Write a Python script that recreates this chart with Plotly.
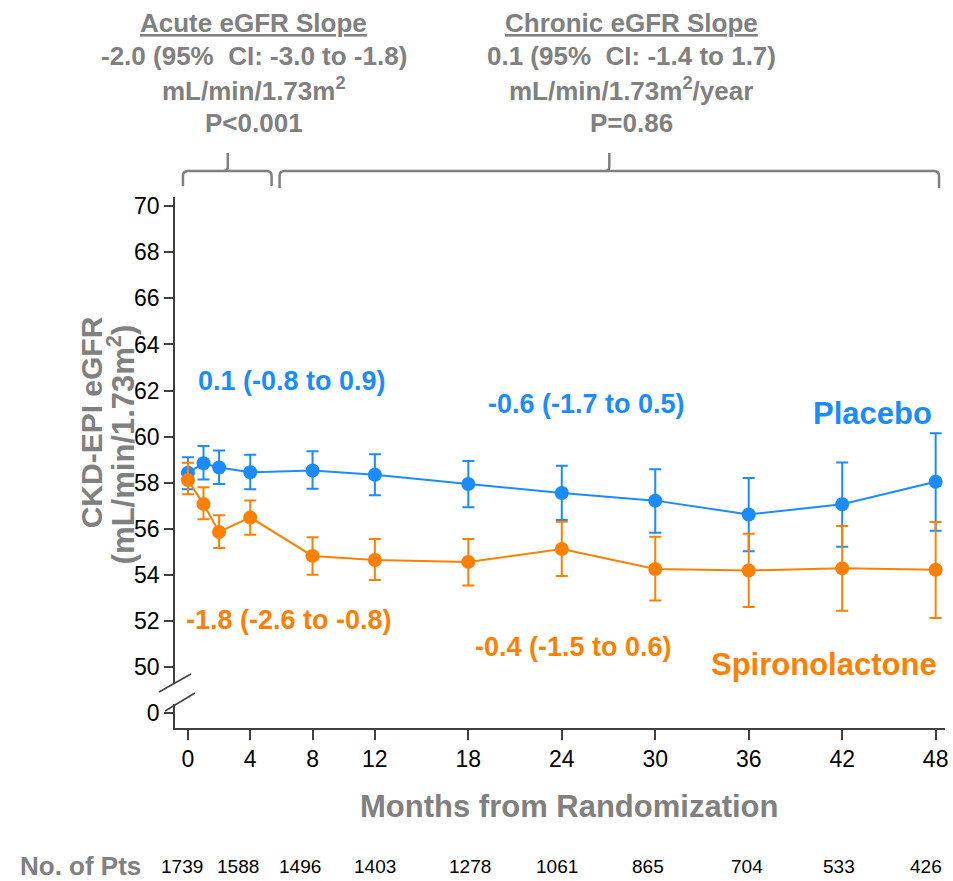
import plotly.graph_objects as go

# ---------------- data ----------------
months = [0, 1, 2, 4, 8, 12, 18, 24, 30, 36, 42, 48]

placebo = [58.43, 58.84, 58.66, 58.45, 58.53, 58.34, 57.94, 57.55, 57.22, 56.62, 57.06, 58.04]
placebo_hi = [59.10, 59.59, 59.40, 59.21, 59.36, 59.23, 58.94, 58.73, 58.58, 58.20, 58.88, 60.14]
placebo_lo = [57.71, 58.14, 57.94, 57.71, 57.74, 57.45, 56.93, 56.38, 55.83, 55.02, 55.22, 55.91]

spiro = [58.11, 57.07, 55.86, 56.49, 54.82, 54.64, 54.56, 55.12, 54.25, 54.19, 54.28, 54.22]
spiro_hi = [58.86, 57.80, 56.59, 57.23, 55.63, 55.55, 55.55, 56.30, 55.65, 55.78, 56.12, 56.29]
spiro_lo = [57.50, 56.41, 55.16, 55.74, 54.00, 53.77, 53.54, 53.95, 52.88, 52.60, 52.44, 52.13]

x_ticks = [0, 4, 8, 12, 18, 24, 30, 36, 42, 48]
y_ticks = [48, 50, 52, 54, 56, 58, 60, 62, 64, 66, 68, 70]
y_ticktext = ["0", "50", "52", "54", "56", "58", "60", "62", "64", "66", "68", "70"]

n_pts_months = [0, 4, 8, 12, 18, 24, 30, 36, 42, 48]
n_pts = [1739, 1588, 1496, 1403, 1278, 1061, 865, 704, 533, 426]

# ---------------- style ----------------
BLUE = "#1A8CFF"
ORANGE = "#FF8000"
GRAY = "#808080"
AX = "#404040"
FONT = "Liberation Sans, Arial, sans-serif"

W, H = 953, 881
PL, PR, PT, PB = 175, 948, 197, 728  # plot area in page pixels

npts_xshift = [-6, -12, -13, 0, 2, -5, -7, -2, -3, -10]


def px(x):
    return (x - PL) / (PR - PL)


def py(y):
    return (PB - y) / (PB - PT)


fig = go.Figure()


def add_series(y, hi, lo, color, name):
    fig.add_trace(go.Scatter(
        x=months, y=y, mode="lines+markers", name=name,
        line=dict(color=color, width=2),
        marker=dict(color=color, size=14),
        error_y=dict(type="data", symmetric=False,
                     array=[h - v for h, v in zip(hi, y)],
                     arrayminus=[v - l for v, l in zip(y, lo)],
                     color=color, thickness=2, width=6),
        showlegend=False,
    ))


add_series(placebo, placebo_hi, placebo_lo, BLUE, "Placebo")
add_series(spiro, spiro_hi, spiro_lo, ORANGE, "Spironolactone")

annotations = []


def ann(text, x, y, color, size, xref="paper", yref="paper", **kw):
    annotations.append(dict(text=text, x=x, y=y, xref=xref, yref=yref,
                            showarrow=False, font=dict(family=FONT, size=size, color=color),
                            xanchor=kw.pop("xanchor", "center"), yanchor=kw.pop("yanchor", "middle"),
                            **kw))


# header texts (one line each to control spacing)
acute = ["<b><u>Acute eGFR Slope</u></b>", "<b>-2.0 (95%  CI: -3.0 to -1.8)</b>",
         "<b>mL/min/1.73m<sup>2</sup></b>", "<b>P<0.001</b>"]
chronic = ["<b><u>Chronic eGFR Slope</u></b>", "<b>0.1 (95%  CI: -1.4 to 1.7)</b>",
           "<b>mL/min/1.73m<sup>2</sup>/year</b>", "<b>P=0.86</b>"]
for i, (a, c) in enumerate(zip(acute, chronic)):
    yy = 23 + 33.3 * i
    ann(a, px(254), py(yy), GRAY, 26)
    ann(c, px(633), py(yy), GRAY, 26)

# in-plot labels
ann("<b>0.1 (-0.8 to 0.9)</b>", px(292), py(381), BLUE, 27)
ann("<b>-0.6 (-1.7 to 0.5)</b>", px(588), py(404), BLUE, 27)
ann("<b>Placebo</b>", px(875), py(413), BLUE, 31)
ann("<b>-1.8 (-2.6 to -0.8)</b>", px(289), py(620), ORANGE, 27)
ann("<b>-0.4 (-1.5 to 0.6)</b>", px(575), py(647), ORANGE, 27)
ann("<b>Spironolactone</b>", px(827), py(664), ORANGE, 31)

# axis titles
ann("<b>CKD-EPI eGFR</b>", px(91), py(422), GRAY, 30, textangle=-90)
ann("<b>(mL/min/1.73m<sup>2</sup>)</b>", px(121), py(445), GRAY, 31, textangle=-90)
ann("<b>Months from Randomization</b>", px(571), py(806), GRAY, 31)

# number at risk
ann("<b>No. of Pts</b>", px(80), py(866), GRAY, 26)
for m, n, s in zip(n_pts_months, n_pts, npts_xshift):
    ann(str(n), m, py(866), "black", 19, xref="x", xshift=s)

# ---------------- shapes ----------------
shapes = []


def brace(x0, xm, x1, yb, yh, ytop, r=5):
    p = (f"M {px(x0)},{py(yb)} L {px(x0)},{py(yh + r)} "
         f"Q {px(x0)},{py(yh)} {px(x0 + r)},{py(yh)} "
         f"L {px(x1 - r)},{py(yh)} Q {px(x1)},{py(yh)} {px(x1)},{py(yh + r)} "
         f"L {px(x1)},{py(yb)}")
    shapes.append(dict(type="path", path=p, xref="paper", yref="paper",
                       line=dict(color=GRAY, width=2.5)))
    p2 = (f"M {px(xm - 4)},{py(yh)} Q {px(xm)},{py(yh)} {px(xm)},{py(yh - 4)} "
          f"L {px(xm)},{py(ytop)}")
    shapes.append(dict(type="path", path=p2, xref="paper", yref="paper",
                       line=dict(color=GRAY, width=2.5)))


brace(183, 228, 272, 186, 171, 153)
brace(280, 611, 942, 188, 171, 153)

# axis break: cover axis line and draw slashes
shapes.append(dict(type="rect", xref="paper", yref="paper",
                   x0=px(171), x1=px(179), y0=py(704), y1=py(684),
                   fillcolor="white", line=dict(width=0), layer="above"))
shapes.append(dict(type="line", xref="paper", yref="paper",
                   x0=px(159), y0=py(692), x1=px(191), y1=py(674),
                   line=dict(color=AX, width=1.5)))
shapes.append(dict(type="line", xref="paper", yref="paper",
                   x0=px(165), y0=py(711), x1=px(195), y1=py(693),
                   line=dict(color=AX, width=1.5)))

fig.update_layout(
    width=W, height=H,
    margin=dict(l=PL, r=W - PR, t=PT, b=H - PB),
    plot_bgcolor="white", paper_bgcolor="white",
    font=dict(family=FONT, color="black"),
    annotations=annotations, shapes=shapes,
    xaxis=dict(range=[-0.83, 48.6], tickvals=x_ticks, ticks="outside", ticklen=10,
               tickwidth=1.5, tickcolor=AX, showline=True, linecolor=AX, linewidth=1.5,
               showgrid=False, zeroline=False, tickfont=dict(size=23, color="black")),
    yaxis=dict(range=[47.35, 70.4], tickvals=y_ticks, ticktext=y_ticktext, ticks="outside",
               ticklen=9, tickwidth=1.5, tickcolor=AX, showline=True, linecolor=AX,
               linewidth=1.5, showgrid=False, zeroline=False,
               tickfont=dict(size=23, color="black")),
)

fig.write_html("out.html", config={"displayModeBar": False},
               post_script="document.body.style.margin='0';document.body.style.overflow='hidden';")
